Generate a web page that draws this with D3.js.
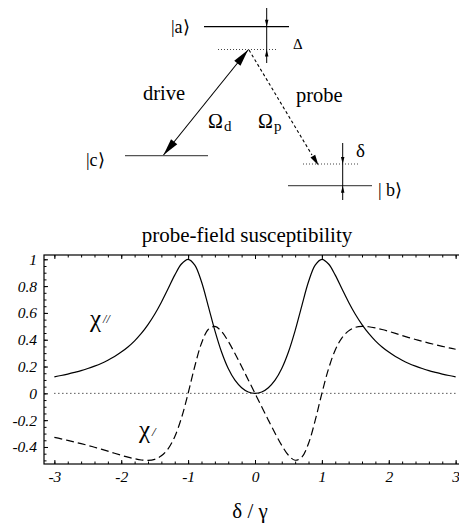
<!DOCTYPE html>
<html>
<head>
<meta charset="utf-8">
<script src="https://cdn.jsdelivr.net/npm/d3@7/dist/d3.min.js"></script>
<style>
    body { margin: 0; background: #fff; }
    #chart, #chart text, #chart tspan { font-family: 'Liberation Serif', 'Times New Roman', serif !important; }
</style>
</head>
<body>
<svg id="chart" width="459" height="527"></svg>
<script>

var FONT = "'Liberation Serif', 'Times New Roman', serif";

// detuning delta / gamma
var delta = [-3.0, -2.9, -2.8, -2.7, -2.6, -2.5, -2.4, -2.3, -2.2, -2.1,
    -2.0, -1.9, -1.8, -1.7, -1.6, -1.5, -1.4, -1.3, -1.2, -1.1,
    -1.0, -0.9, -0.8, -0.7, -0.6, -0.5, -0.4, -0.3, -0.2, -0.1,
    0.0, 0.1, 0.2, 0.3, 0.4, 0.5, 0.6, 0.7, 0.8, 0.9,
    1.0, 1.1, 1.2, 1.3, 1.4, 1.5, 1.6, 1.7, 1.8, 1.9,
    2.0, 2.1, 2.2, 2.3, 2.4, 2.5, 2.6, 2.7, 2.8, 2.9, 3.0];

// chi'' (solid, absorption)
var chiImag = [0.123, 0.133, 0.144, 0.156, 0.169, 0.185, 0.203, 0.223, 0.247, 0.275,
    0.308, 0.346, 0.392, 0.447, 0.513, 0.590, 0.680, 0.780, 0.882, 0.965,
    1.000, 0.957, 0.832, 0.653, 0.468, 0.308, 0.185, 0.098, 0.042, 0.010,
    0.000, 0.010, 0.042, 0.098, 0.185, 0.308, 0.468, 0.653, 0.832, 0.957,
    1.000, 0.965, 0.882, 0.780, 0.680, 0.590, 0.513, 0.447, 0.392, 0.346,
    0.308, 0.275, 0.247, 0.223, 0.203, 0.185, 0.169, 0.156, 0.144, 0.133, 0.123];

// chi' (dashed, dispersion)
var chiReal = [-0.329, -0.339, -0.351, -0.363, -0.375, -0.388, -0.402, -0.416, -0.431, -0.447,
    -0.462, -0.476, -0.488, -0.497, -0.500, -0.492, -0.466, -0.414, -0.323, -0.184,
    0.000, 0.202, 0.374, 0.476, 0.499, 0.462, 0.388, 0.297, 0.200, 0.100,
    0.000, -0.100, -0.200, -0.297, -0.388, -0.462, -0.499, -0.476, -0.374, -0.202,
    0.000, 0.184, 0.323, 0.414, 0.466, 0.492, 0.500, 0.497, 0.488, 0.476,
    0.462, 0.447, 0.431, 0.416, 0.402, 0.388, 0.375, 0.363, 0.351, 0.339, 0.329];

var xTicks = [-3, -2, -1, 0, 1, 2, 3];
var yTicks = [-0.4, -0.2, 0, 0.2, 0.4, 0.6, 0.8, 1];

var svg = d3.select('#chart').style('font-family', FONT, 'important');

// ---------- level diagram ----------
var diag = svg.append('g').attr('class', 'diagram');

function arrowHead(g, x1, y1, x2, y2, len, wid) {
    var dx = x2 - x1, dy = y2 - y1;
    var l = Math.sqrt(dx * dx + dy * dy);
    var ux = dx / l, uy = dy / l;
    var bx = x2 - ux * len, by = y2 - uy * len;
    g.append('path')
        .attr('d', 'M' + x2 + ',' + y2 +
            'L' + (bx - uy * wid / 2) + ',' + (by + ux * wid / 2) +
            'L' + (bx + uy * wid / 2) + ',' + (by - ux * wid / 2) + 'Z')
        .attr('fill', '#000');
}

function hline(x1, x2, y, color, dash) {
    diag.append('line')
        .attr('x1', x1).attr('x2', x2)
        .attr('y1', y).attr('y2', y)
        .attr('stroke', color)
        .attr('stroke-width', dash ? 1 : 1.3)
        .attr('stroke-dasharray', dash || null);
}

// levels
hline(204, 289, 26.7, '#000');
hline(218, 278, 49.5, '#444', '1,2');
hline(125, 208, 155.7, '#555');
hline(303, 358, 164, '#444', '1,2');
hline(288, 372, 185.7, '#555');

// Delta marker
diag.append('line').attr('x1', 266.7).attr('x2', 266.7).attr('y1', 8).attr('y2', 63)
    .attr('stroke', '#000').attr('stroke-width', 1);
arrowHead(diag, 266.7, 8, 266.7, 26.7, 7, 3.5);
arrowHead(diag, 266.7, 63, 266.7, 49.5, 7, 3.5);

// delta marker
diag.append('line').attr('x1', 342.7).attr('x2', 342.7).attr('y1', 143).attr('y2', 200)
    .attr('stroke', '#000').attr('stroke-width', 1);
arrowHead(diag, 342.7, 143, 342.7, 164, 7, 3.5);
arrowHead(diag, 342.7, 200, 342.7, 185.7, 7, 3.5);

// drive (double headed)
diag.append('line').attr('x1', 248).attr('y1', 50).attr('x2', 163.5).attr('y2', 155)
    .attr('stroke', '#000').attr('stroke-width', 1.1);
arrowHead(diag, 163.5, 155, 248, 50, 17, 8);
arrowHead(diag, 248, 50, 163.5, 155, 17, 8);

// probe (dashed)
diag.append('line').attr('x1', 249).attr('y1', 50).attr('x2', 312).attr('y2', 155)
    .attr('stroke', '#000').attr('stroke-width', 1.1)
    .attr('stroke-dasharray', '3,2.5');
arrowHead(diag, 249, 50, 318.5, 165.5, 11, 5.5);

function label(x, y, txt, size, anchor) {
    return diag.append('text')
        .attr('x', x).attr('y', y)
        .style('font-family', FONT, 'important')
        .attr('font-size', size)
        .attr('text-anchor', anchor || 'start')
        .text(txt);
}

label(171, 33, '|a\u27E9', 18);
label(86, 166, '|c\u27E9', 18);
label(378, 196, '| b\u27E9', 18);
label(293, 48.5, '\u0394', 15);
label(356, 157, '\u03B4', 19);
label(143, 100, 'drive', 20.5);
label(296, 102, 'probe', 20.5);

var od = label(208, 128, '\u03A9', 20);
od.append('tspan').attr('font-size', 15).attr('dx', 1).attr('dy', 3).text('d');
var op = label(258, 128, '\u03A9', 20);
op.append('tspan').attr('font-size', 15).attr('dx', 1).attr('dy', 3).text('p');

// ---------- susceptibility plot ----------
var x = d3.scaleLinear().domain([-3.155, 3.155]).range([44, 466]);
var y = d3.scaleLinear().domain([-0.527, 1.032]).range([464, 255]);

var plot = svg.append('g').attr('class', 'plot');

plot.append('text')
    .attr('x', 247).attr('y', 242)
    .attr('text-anchor', 'middle')
    .style('font-family', FONT, 'important')
    .attr('font-size', 21)
    .text('probe-field susceptibility');

// frame
plot.append('rect')
    .attr('x', x.range()[0]).attr('y', y.range()[1])
    .attr('width', x.range()[1] - x.range()[0])
    .attr('height', y.range()[0] - y.range()[1])
    .attr('fill', 'none')
    .attr('stroke', '#000')
    .attr('stroke-width', 1.2);

var minorX = [];
for (var i = -15; i <= 15; i++) minorX.push(i / 5);
var minorY = [];
for (var j = -10; j <= 20; j++) minorY.push(j / 20);

function styleAxis(g) {
    g.attr('font-family', null).style('font-family', FONT, 'important');
    g.select('.domain').remove();
    g.selectAll('.tick line').attr('stroke', '#000').attr('stroke-width', 1);
    g.selectAll('.tick text')
        .style('font-family', FONT, 'important')
        .attr('font-style', 'italic')
        .attr('font-size', 15.5)
        .attr('fill', '#000');
}

// bottom axis, ticks inward
plot.append('g')
    .attr('transform', 'translate(0,' + y.range()[0] + ')')
    .call(d3.axisBottom(x).tickValues(minorX).tickSize(-2.5).tickFormat(''))
    .call(styleAxis);
plot.append('g')
    .attr('transform', 'translate(0,' + y.range()[0] + ')')
    .call(d3.axisBottom(x).tickValues(xTicks).tickSize(-4).tickPadding(6.5)
        .tickFormat(function(d) { return String(d); }))
    .call(styleAxis);

// top axis, ticks inward
plot.append('g')
    .attr('transform', 'translate(0,' + y.range()[1] + ')')
    .call(d3.axisTop(x).tickValues(minorX).tickSize(-2.5).tickFormat(''))
    .call(styleAxis);
plot.append('g')
    .attr('transform', 'translate(0,' + y.range()[1] + ')')
    .call(d3.axisTop(x).tickValues(xTicks).tickSize(-4).tickFormat(''))
    .call(styleAxis);

// left axis, ticks inward
plot.append('g')
    .attr('transform', 'translate(' + x.range()[0] + ',0)')
    .call(d3.axisLeft(y).tickValues(minorY).tickSize(-2.5).tickFormat(''))
    .call(styleAxis);
plot.append('g')
    .attr('transform', 'translate(' + x.range()[0] + ',0)')
    .call(d3.axisLeft(y).tickValues(yTicks).tickSize(-4).tickPadding(7)
        .tickFormat(function(d) { return String(d); }))
    .call(styleAxis);

// zero line
plot.append('line')
    .attr('x1', x(-3)).attr('x2', x(3))
    .attr('y1', y(0)).attr('y2', y(0))
    .attr('stroke', '#000')
    .attr('stroke-width', 1)
    .attr('stroke-dasharray', '1,3');

var line = d3.line()
    .x(function(d, i) { return x(delta[i]); })
    .y(function(d) { return y(d); })
    .curve(d3.curveCatmullRom.alpha(0.5));

plot.append('path')
    .datum(chiImag)
    .attr('d', line)
    .attr('fill', 'none')
    .attr('stroke', '#000')
    .attr('stroke-width', 1.2);

plot.append('path')
    .datum(chiReal)
    .attr('d', line)
    .attr('fill', 'none')
    .attr('stroke', '#000')
    .attr('stroke-width', 1.2)
    .attr('stroke-dasharray', '8,4');

// curve labels
var c2 = plot.append('text').attr('x', 90).attr('y', 327)
    .style('font-family', FONT, 'important').attr('font-size', 25).text('\u03C7');
c2.append('tspan').attr('font-size', 12).attr('font-style', 'italic').attr('dx', 2).attr('dy', -4).text('//');
var c1 = plot.append('text').attr('x', 139).attr('y', 438)
    .style('font-family', FONT, 'important').attr('font-size', 25).text('\u03C7');
c1.append('tspan').attr('font-size', 13).attr('font-style', 'italic').attr('dx', 2).attr('dy', -2).text('/');

// x axis title
plot.append('text')
    .attr('x', 250).attr('y', 518)
    .attr('text-anchor', 'middle')
    .style('font-family', FONT, 'important')
    .attr('font-size', 21)
    .text('\u03B4 / \u03B3');

</script>
</body>
</html>
